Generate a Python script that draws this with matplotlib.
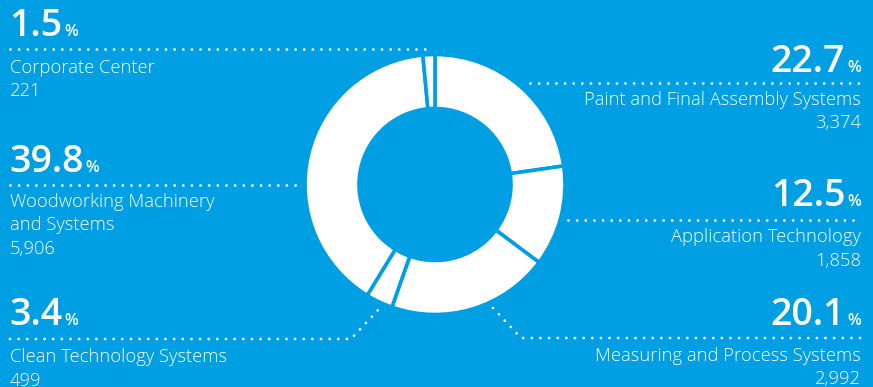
import matplotlib
matplotlib.use("Agg")
import matplotlib.pyplot as plt

# ---- data ----
segments = ["Paint and Final Assembly Systems", "Application Technology",
            "Measuring and Process Systems", "Clean Technology Systems",
            "Woodworking Machinery\nand Systems", "Corporate Center"]
values = [3374, 1858, 2992, 499, 5906, 221]
percents = ["22.7", "12.5", "20.1", "3.4", "39.8", "1.5"]
value_labels = ["3,374", "1,858", "2,992", "499", "5,906", "221"]

BG = "#009fe3"
W, H = 873, 387
FONT = "Open Sans"

fig = plt.figure(figsize=(W / 100, H / 100), dpi=100, facecolor=BG)
ax = fig.add_axes([0, 0, 1, 1])
ax.set_facecolor(BG)

cx, cy, R = 435, H - 184.5, 130
ax.pie(values, radius=R, center=(cx, cy), startangle=90, counterclock=False,
       colors=["white"] * len(values),
       wedgeprops=dict(width=54, edgecolor=BG, linewidth=2.6))
ax.set_xlim(0, W)
ax.set_ylim(0, H)
ax.set_aspect("equal")
ax.axis("off")

dot_style = dict(color="white", linewidth=2.0, linestyle=(0, (0.01, 3.1)),
                 dash_capstyle="round", solid_capstyle="round")

def y(v):
    return H - v

# label layout: (x anchor, align, pct baseline, dotted line points, label baseline)
layout = {
    "Corporate Center": (10, "left", 36, [(10, 49), (428, 49)], 73),
    "Woodworking Machinery\nand Systems": (10, "left", 172.5, [(10, 185), (297, 185)], 207),
    "Clean Technology Systems": (10, "left", 325, [(10, 339), (351, 339), (379, 309)], 362),
    "Paint and Final Assembly Systems": (861, "right", 72, [(530, 83), (861, 83)], 105),
    "Application Technology": (861, "right", 206, [(568, 220), (861, 220)], 242),
    "Measuring and Process Systems": (861, "right", 325, [(493, 308), (521, 338), (861, 338)], 361),
}

LINE = 23.5
PCT_FS, SIGN_FS, LAB_FS = 27, 11.5, 13.2
for seg, pct, vl in zip(segments, percents, value_labels):
    x0, ha, pb, pts, lb = layout[seg]
    xs = [p[0] for p in pts]
    ys = [y(p[1]) for p in pts]
    ax.plot(xs, ys, **dot_style)
    # percentage
    if ha == "left":
        t = ax.text(x0 - 1, y(pb), pct, ha="left", va="baseline", color="white",
                    fontsize=PCT_FS, fontweight="semibold", family=FONT)
        fig.canvas.draw()
        bb = t.get_window_extent()
        ax.text(bb.x1 + 2, y(pb), "%", ha="left", va="baseline", color="white",
                fontsize=SIGN_FS, fontweight="semibold", family=FONT)
    else:
        t = ax.text(x0, y(pb), "%", ha="right", va="baseline", color="white",
                    fontsize=SIGN_FS, fontweight="semibold", family=FONT)
        fig.canvas.draw()
        bb = t.get_window_extent()
        ax.text(bb.x0 - 2, y(pb), pct, ha="right", va="baseline", color="white",
                fontsize=PCT_FS, fontweight="semibold", family=FONT)
    lines = seg.split("\n") + [vl]
    for i, ln in enumerate(lines):
        ax.text(x0, y(lb + i * LINE), ln, ha=ha, va="baseline", color="white",
                fontsize=LAB_FS, fontweight="light", family=FONT)

fig.savefig("out.png", dpi=100, facecolor=BG)
